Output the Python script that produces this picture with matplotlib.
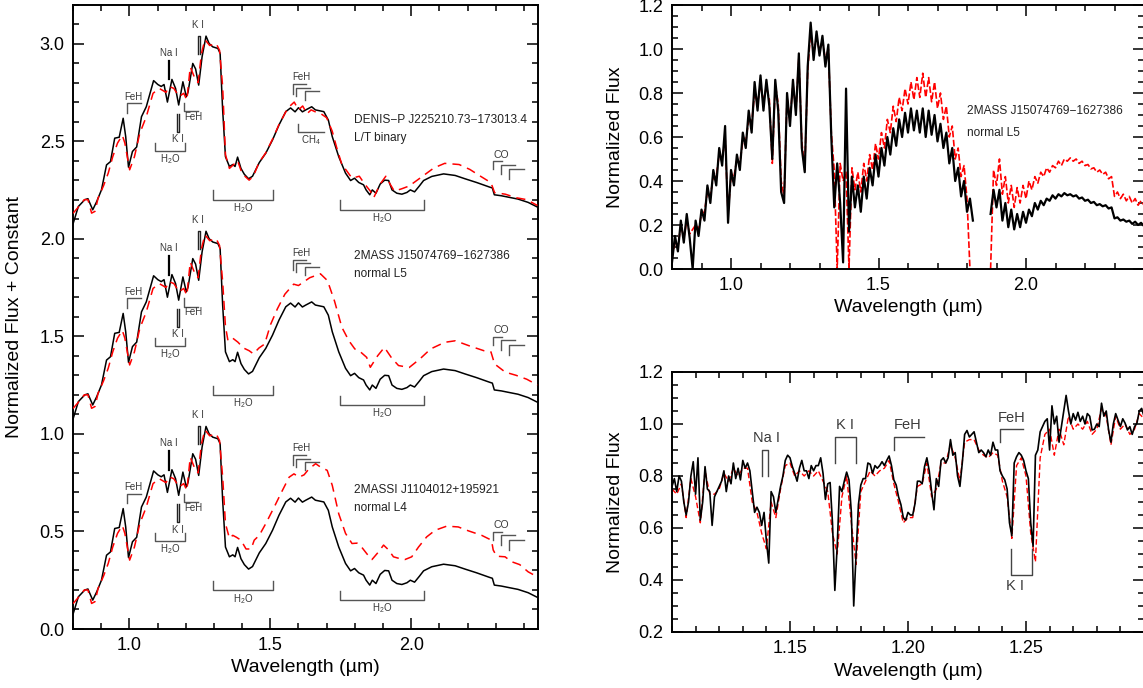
import numpy as np
import matplotlib
matplotlib.use("Agg")
import matplotlib.pyplot as plt
from matplotlib.ticker import MultipleLocator, FixedLocator, FormatStrFormatter

plt.rcParams['font.family'] = ['Liberation Sans', 'DejaVu Sans']
plt.rcParams['mathtext.fontset'] = 'custom'
plt.rcParams['mathtext.rm'] = 'Liberation Sans'
plt.rcParams['mathtext.it'] = 'Liberation Sans'

# ---------------- left panel: smoothed spectra ----------------
# template (black), same for all three rows
left_wave = [0.801, 0.819, 0.842, 0.853, 0.870, 0.884, 0.901, 0.919, 0.933, 0.948,
             0.964, 0.978, 0.987, 0.997, 1.011, 1.026, 1.043, 1.060, 1.086, 1.101,
             1.113, 1.123, 1.135, 1.151, 1.164, 1.175, 1.190, 1.202, 1.208, 1.225,
             1.235, 1.246, 1.258, 1.272, 1.283, 1.296, 1.314, 1.322, 1.331, 1.341,
             1.355, 1.367, 1.375, 1.384, 1.396, 1.408, 1.423, 1.437, 1.461, 1.484,
             1.508, 1.531, 1.555, 1.572, 1.588, 1.600, 1.614, 1.626, 1.647, 1.660,
             1.690, 1.706, 1.720, 1.743, 1.767, 1.785, 1.799, 1.814, 1.831, 1.840,
             1.853, 1.862, 1.875, 1.890, 1.906, 1.920, 1.932, 1.949, 1.967, 1.985,
             1.997, 2.012, 2.029, 2.044, 2.073, 2.115, 2.156, 2.191, 2.232, 2.279,
             2.288, 2.295, 2.320, 2.344, 2.379, 2.415, 2.448]
left_black = [0.080, 0.165, 0.200, 0.205, 0.148, 0.190, 0.250, 0.378, 0.395, 0.515,
              0.520, 0.617, 0.523, 0.366, 0.447, 0.470, 0.625, 0.676, 0.810, 0.790,
              0.780, 0.790, 0.700, 0.816, 0.770, 0.685, 0.804, 0.728, 0.750, 0.898,
              0.870, 0.787, 0.932, 1.038, 1.000, 0.983, 0.975, 0.950, 0.660, 0.420,
              0.370, 0.380, 0.370, 0.418, 0.360, 0.330, 0.307, 0.320, 0.390, 0.438,
              0.506, 0.583, 0.651, 0.670, 0.650, 0.671, 0.650, 0.660, 0.676, 0.660,
              0.651, 0.608, 0.523, 0.420, 0.336, 0.298, 0.310, 0.288, 0.276, 0.250,
              0.225, 0.250, 0.233, 0.280, 0.300, 0.298, 0.250, 0.233, 0.228, 0.237,
              0.250, 0.240, 0.270, 0.298, 0.319, 0.332, 0.324, 0.307, 0.288, 0.264,
              0.260, 0.225, 0.220, 0.213, 0.203, 0.186, 0.162]

# red comparison spectra: shared Y/J part
red_yj_wave = [0.800, 0.824, 0.840, 0.853, 0.866, 0.878, 0.889, 0.908, 0.925, 0.941,
               0.958, 0.975, 0.984, 1.001, 1.018, 1.037, 1.060, 1.084, 1.106, 1.130,
               1.141, 1.158, 1.176, 1.193, 1.204, 1.216, 1.233, 1.244, 1.256, 1.268,
               1.285, 1.308, 1.320, 1.331]
red_yj_flux = [0.130, 0.170, 0.200, 0.200, 0.131, 0.140, 0.208, 0.270, 0.336, 0.420,
               0.490, 0.530, 0.490, 0.353, 0.420, 0.540, 0.625, 0.745, 0.770, 0.750,
               0.780, 0.770, 0.728, 0.745, 0.710, 0.880, 0.820, 0.800, 0.950, 1.020,
               0.990, 1.000, 0.965, 0.780]

# H/K parts of the red spectra
red_bin_wave = [1.341, 1.355, 1.370, 1.384, 1.396, 1.410, 1.425, 1.440, 1.460, 1.484,
                1.508, 1.531, 1.555, 1.570, 1.585, 1.600, 1.615, 1.630, 1.645, 1.660,
                1.680, 1.700, 1.720, 1.735, 1.754, 1.770, 1.790, 1.816, 1.835, 1.855,
                1.867, 1.890, 1.910, 1.925, 1.940, 1.965, 1.993, 2.031, 2.081, 2.119,
                2.170, 2.208, 2.246, 2.283, 2.296, 2.334, 2.372, 2.410, 2.448]
red_bin_flux = [0.430, 0.360, 0.380, 0.400, 0.350, 0.320, 0.300, 0.320, 0.390, 0.440,
                0.510, 0.585, 0.650, 0.680, 0.700, 0.660, 0.680, 0.640, 0.660, 0.650,
                0.640, 0.620, 0.550, 0.470, 0.380, 0.350, 0.310, 0.320, 0.280, 0.244,
                0.210, 0.280, 0.320, 0.280, 0.244, 0.255, 0.270, 0.310, 0.363, 0.386,
                0.380, 0.355, 0.320, 0.287, 0.236, 0.228, 0.210, 0.200, 0.170]

red_l5_wave = [1.341, 1.350, 1.367, 1.385, 1.405, 1.425, 1.440, 1.460, 1.480, 1.501,
               1.525, 1.552, 1.583, 1.600, 1.640, 1.678, 1.703, 1.728, 1.754, 1.779,
               1.800, 1.820, 1.842, 1.855, 1.881, 1.905, 1.930, 1.955, 1.993, 2.031,
               2.069, 2.119, 2.157, 2.208, 2.258, 2.283, 2.296, 2.334, 2.372, 2.410,
               2.448]
red_l5_flux = [0.550, 0.477, 0.490, 0.470, 0.440, 0.426, 0.410, 0.440, 0.460, 0.560,
               0.640, 0.716, 0.767, 0.760, 0.800, 0.820, 0.785, 0.680, 0.546, 0.477,
               0.435, 0.420, 0.392, 0.341, 0.400, 0.443, 0.390, 0.350, 0.340, 0.384,
               0.435, 0.469, 0.477, 0.450, 0.426, 0.420, 0.358, 0.316, 0.300, 0.280,
               0.250]

red_l4_wave = [1.341, 1.355, 1.367, 1.380, 1.396, 1.414, 1.432, 1.443, 1.461, 1.484,
               1.514, 1.543, 1.567, 1.584, 1.602, 1.620, 1.637, 1.661, 1.678, 1.702,
               1.720, 1.743, 1.767, 1.790, 1.808, 1.824, 1.844, 1.861, 1.884, 1.902,
               1.920, 1.937, 1.961, 1.978, 2.002, 2.026, 2.055, 2.085, 2.126, 2.167,
               2.203, 2.250, 2.285, 2.291, 2.303, 2.333, 2.356, 2.385, 2.415, 2.448]
red_l4_flux = [0.540, 0.465, 0.480, 0.470, 0.455, 0.410, 0.410, 0.455, 0.480, 0.540,
               0.625, 0.710, 0.778, 0.795, 0.778, 0.790, 0.820, 0.847, 0.830, 0.813,
               0.736, 0.590, 0.490, 0.438, 0.440, 0.420, 0.383, 0.356, 0.395, 0.430,
               0.405, 0.370, 0.360, 0.356, 0.370, 0.420, 0.472, 0.506, 0.527, 0.523,
               0.503, 0.480, 0.455, 0.405, 0.373, 0.370, 0.345, 0.330, 0.293, 0.267]

row_offsets = [2.0, 1.0, 0.0]
row_names = ["DENIS\u2212P J225210.73\u2212173013.4", "2MASS J15074769\u22121627386",
             "2MASSI J1104012+195921"]
row_types = ["L/T binary", "normal L5", "normal L4"]
row_name_y = [0.61, 0.912, 0.714]
row_band_shift = [-0.1, 0.0, 0.0]   # FeH (H band) and CO marks sit lower on the top row

# ---------------- top right: full resolution spectrum ----------------
full_wave = np.round(np.arange(0.80, 2.405, 0.01), 2)
nan = np.nan
full_black = [0.03, 0.15, 0.08, 0.22, 0.12, 0.25, 0.14, 0.00, 0.22, 0.15,
              0.27, 0.22, 0.38, 0.30, 0.45, 0.38, 0.55, 0.47, 0.65, 0.21,
              0.45, 0.38, 0.52, 0.45, 0.62, 0.55, 0.72, 0.62, 0.85, 0.72,
              0.88, 0.72, 0.86, 0.74, 0.50, 0.86, 0.72, 0.35, 0.30, 0.80,
              0.65, 0.86, 0.70, 0.98, 0.55, 0.44, 0.92, 1.12, 0.95, 1.08,
              0.97, 1.06, 0.92, 1.02, 0.60, 0.28, 0.48, 0.30, 0.03, 0.82,
              0.17, 0.42, 0.28, 0.38, 0.26, 0.42, 0.32, 0.46, 0.38, 0.52,
              0.42, 0.55, 0.47, 0.60, 0.52, 0.64, 0.56, 0.68, 0.60, 0.71,
              0.62, 0.73, 0.63, 0.72, 0.62, 0.73, 0.60, 0.72, 0.61, 0.70,
              0.58, 0.66, 0.55, 0.62, 0.48, 0.55, 0.40, 0.46, 0.33, 0.40,
              0.26, 0.32, 0.22, nan, nan, nan, nan, nan, 0.25, 0.36,
              0.28, 0.36, 0.22, 0.30, 0.19, 0.27, 0.18, 0.25, 0.19, 0.26,
              0.21, 0.27, 0.24, 0.30, 0.27, 0.31, 0.29, 0.32, 0.31, 0.335,
              0.32, 0.34, 0.33, 0.345, 0.335, 0.34, 0.33, 0.335, 0.32, 0.325,
              0.31, 0.315, 0.30, 0.305, 0.29, 0.295, 0.285, 0.29, 0.275, 0.28,
              0.23, 0.235, 0.22, 0.225, 0.215, 0.22, 0.205, 0.215, 0.20, 0.21,
              0.195]
full_red = [0.05, 0.12, 0.10, 0.20, 0.14, 0.22, 0.16, 0.18, 0.20, 0.18,
            0.25, 0.26, 0.35, 0.33, 0.42, 0.42, 0.52, 0.50, 0.60, 0.25,
            0.42, 0.42, 0.50, 0.48, 0.58, 0.58, 0.68, 0.66, 0.80, 0.75,
            0.84, 0.76, 0.83, 0.77, 0.48, 0.84, 0.75, 0.40, 0.33, 0.78,
            0.68, 0.84, 0.72, 0.96, 0.58, 0.45, 0.90, 1.08, 0.98, 1.05,
            0.99, 1.04, 0.95, 1.00, 0.62, 0.45, 0.00, 0.48, 0.40, 0.44,
            0.00, 0.46, 0.36, 0.44, 0.35, 0.48, 0.40, 0.52, 0.45, 0.57,
            0.50, 0.62, 0.55, 0.68, 0.62, 0.74, 0.67, 0.78, 0.72, 0.82,
            0.75, 0.85, 0.77, 0.87, 0.78, 0.89, 0.78, 0.87, 0.76, 0.85,
            0.73, 0.80, 0.68, 0.74, 0.60, 0.65, 0.50, 0.55, 0.42, 0.47,
            0.32, 0.00, nan, nan, nan, nan, nan, nan, 0.00, 0.45,
            0.38, 0.50, 0.34, 0.42, 0.30, 0.38, 0.28, 0.37, 0.30, 0.38,
            0.32, 0.40, 0.36, 0.42, 0.39, 0.44, 0.42, 0.46, 0.44, 0.47,
            0.46, 0.49, 0.47, 0.50, 0.49, 0.505, 0.49, 0.50, 0.48, 0.49,
            0.47, 0.475, 0.455, 0.46, 0.44, 0.45, 0.43, 0.44, 0.41, 0.42,
            0.33, 0.35, 0.32, 0.34, 0.31, 0.33, 0.30, 0.32, 0.29, 0.31,
            0.29]

# ---------------- bottom right: J band close-up ----------------
zoom_wave = np.round(np.arange(1.100, 1.3005, 0.001), 3)
zoom_black = [0.76, 0.79, 0.74, 0.80, 0.78, 0.70, 0.65, 0.70, 0.80, 0.855,
              0.73, 0.87, 0.63, 0.70, 0.836, 0.75, 0.74, 0.61, 0.72, 0.74,
              0.76, 0.78, 0.82, 0.74, 0.80, 0.77, 0.85, 0.79, 0.83, 0.785,
              0.86, 0.83, 0.85, 0.82, 0.74, 0.66, 0.68, 0.66, 0.61, 0.66,
              0.55, 0.465, 0.74, 0.72, 0.66, 0.71, 0.76, 0.80, 0.86, 0.88,
              0.87, 0.836, 0.81, 0.78, 0.83, 0.86, 0.82, 0.82, 0.79, 0.84,
              0.82, 0.84, 0.84, 0.87, 0.81, 0.71, 0.77, 0.775, 0.62, 0.36,
              0.53, 0.76, 0.74, 0.78, 0.815, 0.785, 0.66, 0.30, 0.50, 0.69,
              0.765, 0.79, 0.79, 0.85, 0.845, 0.81, 0.84, 0.83, 0.84, 0.855,
              0.84, 0.86, 0.877, 0.84, 0.785, 0.765, 0.72, 0.69, 0.64, 0.63,
              0.66, 0.65, 0.65, 0.695, 0.78, 0.78, 0.77, 0.836, 0.87, 0.82,
              0.74, 0.67, 0.79, 0.76, 0.86, 0.87, 0.85, 0.87, 0.94, 0.88,
              0.89, 0.80, 0.76, 0.85, 0.96, 0.975, 0.95, 0.96, 0.97, 0.93,
              0.89, 0.90, 0.89, 0.874, 0.90, 0.88, 0.93, 0.90, 0.90, 0.82,
              0.80, 0.785, 0.75, 0.62, 0.57, 0.85, 0.874, 0.89, 0.88, 0.86,
              0.82, 0.79, 0.62, 0.53, 0.88, 0.90, 0.97, 0.99, 1.01, 1.02,
              0.90, 1.07, 1.00, 1.03, 0.93, 0.99, 1.05, 1.11, 1.05, 1.00,
              1.04, 1.015, 1.045, 1.01, 1.03, 1.00, 1.04, 1.03, 0.977, 0.98,
              1.00, 0.99, 1.08, 1.03, 1.05, 0.977, 0.93, 1.00, 1.04, 1.015,
              0.99, 1.02, 1.003, 0.977, 0.99, 0.96, 0.99, 1.003, 1.05, 1.06,
              1.03]
zoom_red_wave = np.round(np.arange(1.100, 1.3005, 0.002), 3)
zoom_red = [0.75, 0.73, 0.77, 0.64, 0.79, 0.72, 0.62, 0.82, 0.73, 0.73,
            0.75, 0.81, 0.78, 0.83, 0.80, 0.83, 0.83, 0.70, 0.66, 0.58,
            0.52, 0.70, 0.64, 0.75, 0.84, 0.85, 0.80, 0.82, 0.80, 0.82,
            0.80, 0.82, 0.78, 0.74, 0.58, 0.50, 0.72, 0.80, 0.62, 0.46,
            0.74, 0.78, 0.82, 0.80, 0.82, 0.83, 0.86, 0.77, 0.70, 0.62,
            0.64, 0.64, 0.76, 0.77, 0.85, 0.72, 0.75, 0.85, 0.85, 0.92,
            0.87, 0.78, 0.93, 0.94, 0.94, 0.90, 0.88, 0.87, 0.89, 0.88,
            0.78, 0.72, 0.56, 0.84, 0.87, 0.80, 0.58, 0.47, 0.87, 0.96,
            0.98, 0.88, 0.98, 0.92, 1.03, 0.98, 1.00, 0.98, 1.01, 0.96,
            0.98, 1.06, 1.03, 0.92, 1.03, 0.98, 1.00, 0.96, 0.98, 1.04,
            1.02]
zoom_xticks = [1.15, 1.20, 1.25]

GREY = '#555555'
LABEL = '#3a3a3a'
RED = '#ff0000'


def style_axes(ax, xmaj, xmin, ymaj, ymin, xfmt, yfmt):
    if isinstance(xmaj, list):
        ax.xaxis.set_major_locator(FixedLocator(xmaj))
    else:
        ax.xaxis.set_major_locator(MultipleLocator(xmaj))
    ax.xaxis.set_minor_locator(MultipleLocator(xmin))
    ax.yaxis.set_major_locator(MultipleLocator(ymaj))
    ax.yaxis.set_minor_locator(MultipleLocator(ymin))
    ax.xaxis.set_major_formatter(FormatStrFormatter(xfmt))
    ax.yaxis.set_major_formatter(FormatStrFormatter(yfmt))
    ax.tick_params(which='both', direction='in', top=True, right=True,
                   width=1.1, labelsize=13, pad=6)
    ax.tick_params(which='major', length=8)
    ax.tick_params(which='minor', length=4)
    for s in ax.spines.values():
        s.set_linewidth(1.4)


def hook(ax, x0, x1, ytop, ybot, color=GREY, lw=1.0):
    ax.plot([x0, x0, x1], [ybot, ytop, ytop], color=color, lw=lw)


def cup(ax, x0, x1, y, h, color=GREY, lw=1.0):
    ax.plot([x0, x0, x1, x1], [y + h, y, y, y + h], color=color, lw=lw)


def cap(ax, x0, x1, ytop, ybot, color=GREY, lw=1.0):
    ax.plot([x0, x0, x1, x1], [ybot, ytop, ytop, ybot], color=color, lw=lw)


def ftext(ax, x, y, s, size=7, **kw):
    ax.text(x, y, s, fontsize=size, color=LABEL, ha=kw.pop('ha', 'center'), **kw)


fig = plt.figure(figsize=(11.43, 6.88), dpi=100)

# ---------- left panel ----------
axl = fig.add_axes([73 / 1143, 59 / 688, 465 / 1143, 624.5 / 688])
red_hk = [(red_bin_wave, red_bin_flux), (red_l5_wave, red_l5_flux), (red_l4_wave, red_l4_flux)]
for i, off in enumerate(row_offsets):
    axl.plot(left_wave, np.array(left_black) + off, color='black', lw=1.1, zorder=3)
    rw = list(red_yj_wave) + list(red_hk[i][0])
    rf = np.array(list(red_yj_flux) + list(red_hk[i][1])) + off
    axl.plot(rw, rf, color=RED, lw=1.1, ls=(0, (6, 4)), zorder=4)

    # J band features
    hook(axl, 0.99, 1.04, off + 0.694, off + 0.646)
    ftext(axl, 1.015, off + 0.70, 'FeH', va='bottom')
    axl.plot([1.14, 1.14], [off + 0.816, off + 0.91], color='black', lw=1.6)
    ftext(axl, 1.14, off + 0.925, 'Na I', va='bottom')
    cap(axl, 1.243, 1.252, off + 1.04, off + 0.946, color='#222222')
    ftext(axl, 1.245, off + 1.07, 'K I', va='bottom')
    cup(axl, 1.169, 1.176, off + 0.546, 0.094, color='#222222')
    ftext(axl, 1.172, off + 0.535, 'K I', va='top')
    axl.plot([1.194, 1.194, 1.245], [off + 0.694, off + 0.652, off + 0.652], color=GREY, lw=1.0)
    ftext(axl, 1.196, off + 0.648, 'FeH', va='top', ha='left')
    cup(axl, 1.09, 1.199, off + 0.451, 0.041)
    ftext(axl, 1.145, off + 0.443, 'H$_2$O', va='top')
    cup(axl, 1.298, 1.508, off + 0.199, 0.048)
    ftext(axl, 1.403, off + 0.191, 'H$_2$O', va='top')
    cup(axl, 1.746, 2.047, off + 0.148, 0.048)
    ftext(axl, 1.896, off + 0.140, 'H$_2$O', va='top')

    # H and K band features
    s = off + row_band_shift[i]
    hook(axl, 1.581, 1.627, s + 0.893, s + 0.842)
    hook(axl, 1.593, 1.640, s + 0.873, s + 0.830)
    hook(axl, 1.623, 1.672, s + 0.856, s + 0.813)
    ftext(axl, 1.612, s + 0.902, 'FeH', va='bottom')
    hook(axl, 2.289, 2.323, s + 0.497, s + 0.455)
    hook(axl, 2.318, 2.367, s + 0.480, s + 0.430)
    hook(axl, 2.347, 2.400, s + 0.455, s + 0.405)
    ftext(axl, 2.32, s + 0.505, 'CO', size=7.5, va='bottom')

    axl.text(1.797, off + row_name_y[i], row_names[i], fontsize=8.6, color='#222222', va='center')
    axl.text(1.797, off + row_name_y[i] - 0.095, row_types[i], fontsize=8.6, color='#222222', va='center')

# CH4 only for the binary
axl.plot([1.597, 1.597, 1.69], [2.588, 2.546, 2.546], color=GREY, lw=1.0)
ftext(axl, 1.643, 2.538, 'CH$_4$', va='top')

axl.set_xlim(0.8, 2.45)
axl.set_ylim(0.0, 3.2)
style_axes(axl, 0.5, 0.1, 0.5, 0.1, '%.1f', '%.1f')
fig.text(15 / 1143, 1 - 317 / 688, 'Normalized Flux + Constant', rotation=90,
         ha='center', va='center', fontsize=14)
fig.text(305 / 1143, 1 - 668 / 688, 'Wavelength (\u00b5m)', ha='center', va='center', fontsize=14)

# ---------- top right ----------
axt = fig.add_axes([672 / 1143, 419 / 688, 472 / 1143, 264 / 688])
axt.plot(full_wave, full_red, color=RED, lw=1.2, ls=(0, (4, 1.5)))
axt.plot(full_wave, full_black, color='black', lw=1.6)
axt.text(1.80, 0.718, row_names[1], fontsize=8.6, color='#222222', va='center')
axt.text(1.80, 0.618, 'normal L5', fontsize=8.6, color='#222222', va='center')
axt.set_xlim(0.8, 2.4)
axt.set_ylim(0.0, 1.2)
style_axes(axt, 0.5, 0.1, 0.2, 0.05, '%.1f', '%.1f')
fig.text(616 / 1143, 1 - 137 / 688, 'Normalized Flux', rotation=90,
         ha='center', va='center', fontsize=14)
fig.text(908 / 1143, 1 - 308 / 688, 'Wavelength (\u00b5m)', ha='center', va='center', fontsize=14)

# ---------- bottom right ----------
axb = fig.add_axes([672 / 1143, 56 / 688, 472 / 1143, 260 / 688])
axb.plot(zoom_red_wave, zoom_red, color=RED, lw=1.0, ls=(0, (4, 2)))
axb.plot(zoom_wave, zoom_black, color='black', lw=1.2)
cap(axb, 1.1381, 1.1408, 0.90, 0.80, color='#444444')
ftext(axb, 1.1400, 0.918, 'Na I', size=10.5, va='bottom')
cap(axb, 1.1691, 1.1778, 0.951, 0.849, color='#444444')
ftext(axb, 1.1731, 0.968, 'K I', size=10.5, va='bottom')
hook(axb, 1.1939, 1.2067, 0.951, 0.90, color='#444444')
ftext(axb, 1.2000, 0.968, 'FeH', size=10.5, va='bottom')
hook(axb, 1.2391, 1.2489, 0.981, 0.932, color='#444444')
ftext(axb, 1.2441, 0.998, 'FeH', size=10.5, va='bottom')
cup(axb, 1.2436, 1.2526, 0.419, 0.099, color='#444444')
ftext(axb, 1.2454, 0.405, 'K I', size=10.5, va='top')
axb.set_xlim(1.10, 1.30)
axb.set_ylim(0.2, 1.2)
style_axes(axb, zoom_xticks, 0.01, 0.2, 0.05, '%.2f', '%.1f')
fig.text(616 / 1143, 1 - 502 / 688, 'Normalized Flux', rotation=90,
         ha='center', va='center', fontsize=14)
fig.text(908 / 1143, 1 - 672 / 688, 'Wavelength (\u00b5m)', ha='center', va='center', fontsize=14)

fig.savefig('out.png', dpi=100)
